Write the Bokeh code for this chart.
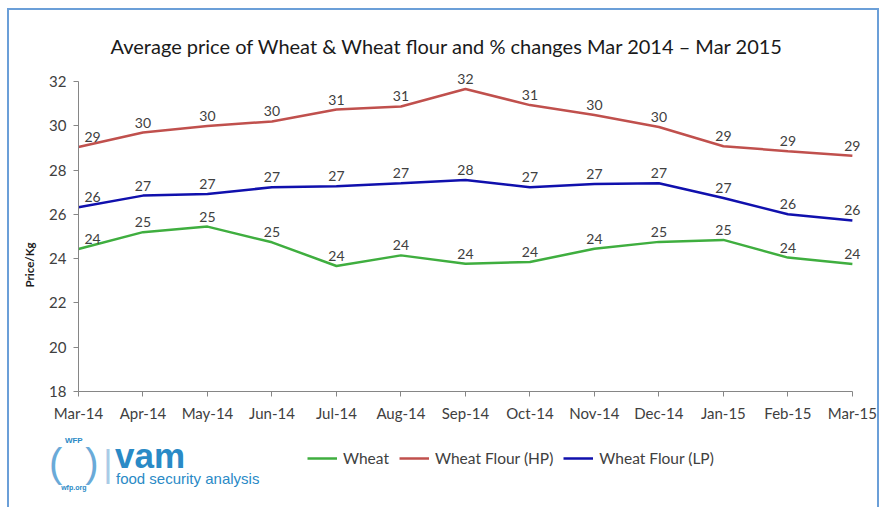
from bokeh.plotting import figure
from bokeh.layouts import column
from bokeh.models import (Range1d, FixedTicker, ColumnDataSource, LabelSet, Label,
                          Legend, LegendItem, Title)
from bokeh.core.properties import value
from bokeh.embed import file_html
from bokeh.resources import INLINE

months = ["Mar-14", "Apr-14", "May-14", "Jun-14", "Jul-14", "Aug-14", "Sep-14",
          "Oct-14", "Nov-14", "Dec-14", "Jan-15", "Feb-15", "Mar-15"]
wheat = [24.44, 25.20, 25.45, 24.74, 23.67, 24.15, 23.77, 23.85, 24.45, 24.76, 24.85, 24.05, 23.76]
flour_hp = [29.05, 29.70, 30.00, 30.20, 30.74, 30.88, 31.67, 30.94, 30.49, 29.95, 29.08, 28.86, 28.65]
flour_lp = [26.32, 26.85, 26.92, 27.23, 27.27, 27.41, 27.56, 27.23, 27.38, 27.41, 26.74, 26.01, 25.73]
series_names = ["Wheat", "Wheat Flour (HP)", "Wheat Flour (LP)"]
y_ticks = [18, 20, 22, 24, 26, 28, 30, 32]

title_text = "Average price of Wheat & Wheat flour and % changes Mar 2014 \u2013 Mar 2015"
y_title = "Price/Kg"
FONT = "Lato"
LABEL_COLOR = "#404040"
BORDER = "2px solid #6b9fd8"
COLORS = ["#3fae3f", "#c0504d", "#1010ad"]

n = len(months)
p = figure(width=872, height=415, output_backend="svg", toolbar_location=None,
           x_range=Range1d(0, n - 1 + 0.25), y_range=Range1d(y_ticks[0], y_ticks[-1] + 1),
           min_border_left=66, min_border_right=13, min_border_top=49, min_border_bottom=34,
           styles={"border-left": BORDER, "border-top": BORDER, "border-right": BORDER})
p.margin = (8, 0, 0, 7)
p.frame_align = False
p.outline_line_color = None
p.xgrid.grid_line_color = None
p.ygrid.grid_line_color = None

p.title.text = title_text
p.title.align = "left"
p.title.offset = 32
p.title.standoff = 3
p.title.text_font = FONT
p.title.text_font_size = "20px"
p.title.text_font_style = "normal"
p.title.text_color = "#1a1a1a"

for ax in (p.xaxis[0], p.yaxis[0]):
    ax.axis_line_color = "#868686"
    ax.major_tick_line_color = "#868686"
    ax.major_tick_out = 5
    ax.major_tick_in = 0
    ax.minor_tick_line_color = None
    ax.major_label_text_font = FONT
    ax.major_label_text_font_size = "15px"
    ax.major_label_text_color = LABEL_COLOR
    ax.major_label_standoff = 7

p.xaxis[0].ticker = FixedTicker(ticks=list(range(n)))
p.xaxis[0].major_label_overrides = {i: m for i, m in enumerate(months)}
p.xaxis[0].bounds = (0, n - 1)
p.yaxis[0].ticker = FixedTicker(ticks=y_ticks)
p.yaxis[0].bounds = (y_ticks[0], y_ticks[-1])

p.add_layout(Title(text=y_title, align="left", offset=104, standoff=22,
                   text_font=FONT, text_font_size="11.5px", text_font_style="bold",
                   text_color="#1a1a1a"), "left")

for name, vals, color in zip(series_names, [wheat, flour_hp, flour_lp], COLORS):
    xs = list(range(n))
    src = ColumnDataSource(dict(x=xs, y=vals,
                                lab=[str(int(round(v))) for v in vals],
                                xo=[14 if i == 0 else 0 for i in xs]))
    p.line("x", "y", source=src, line_color=color, line_width=2.5)
    p.add_layout(LabelSet(x="x", y="y", text="lab", source=src, x_offset="xo", y_offset=5,
                          text_align="center", text_baseline="bottom",
                          text_font=value(FONT), text_font_size="14px",
                          text_color=LABEL_COLOR))

# footer strip: legend and logo
fw, fh = 872, 84
f = figure(width=fw, height=fh, output_backend="svg", toolbar_location=None,
           x_range=Range1d(0, fw - 4), y_range=Range1d(fh, 0),
           x_axis_type=None, y_axis_type=None,
           min_border_left=0, min_border_right=0, min_border_top=0, min_border_bottom=0,
           styles={"border-left": BORDER, "border-right": BORDER})
f.margin = (0, 0, 0, 7)
f.frame_align = False
f.outline_line_color = None
f.xgrid.grid_line_color = None
f.ygrid.grid_line_color = None

items = []
for name, vals, color in zip(series_names, [wheat, flour_hp, flour_lp], COLORS):
    # legend proxy (hidden) built from the same series
    r = f.line(x=list(range(n)), y=vals, line_color=color, line_width=2.5, visible=False)
    items.append(LegendItem(label=name, renderers=[r]))
legend = Legend(items=items, orientation="horizontal", location=(298, 39),
                label_text_font=FONT, label_text_font_size="15.5px", label_text_color=LABEL_COLOR,
                glyph_width=30, label_standoff=6, spacing=10, padding=0, margin=0,
                border_line_color=None, background_fill_alpha=0)
f.add_layout(legend, "center")

LOGO = "#2a8ac6"
logo = [
    dict(text="WFP", x=64, y=17, text_font_size="8px", text_font_style="bold", text_align="center"),
    dict(text="wfp.org", x=64, y=64, text_font_size="7px", text_font_style="bold", text_align="center"),
    dict(text="(", x=46, y=39, text_font_size="40px", text_align="center", text_color="#6aaad8"),
    dict(text=")", x=82, y=39, text_font_size="40px", text_align="center", text_color="#6aaad8"),
    dict(text="|", x=98, y=40, text_font_size="36px", text_align="center", text_color="#a9cbe6"),
    dict(text="vam", x=105, y=32, text_font_size="35px", text_font_style="bold", text_align="left"),
    dict(text="food security analysis", x=106, y=55, text_font_size="15px", text_align="left"),
]
for d in logo:
    kw = dict(text_baseline="middle", text_color=LOGO, text_font="Liberation Sans")
    kw.update(d)
    f.add_layout(Label(**kw))

layout = column(p, f, spacing=0)
open("out.html", "w").write(file_html(layout, INLINE))
